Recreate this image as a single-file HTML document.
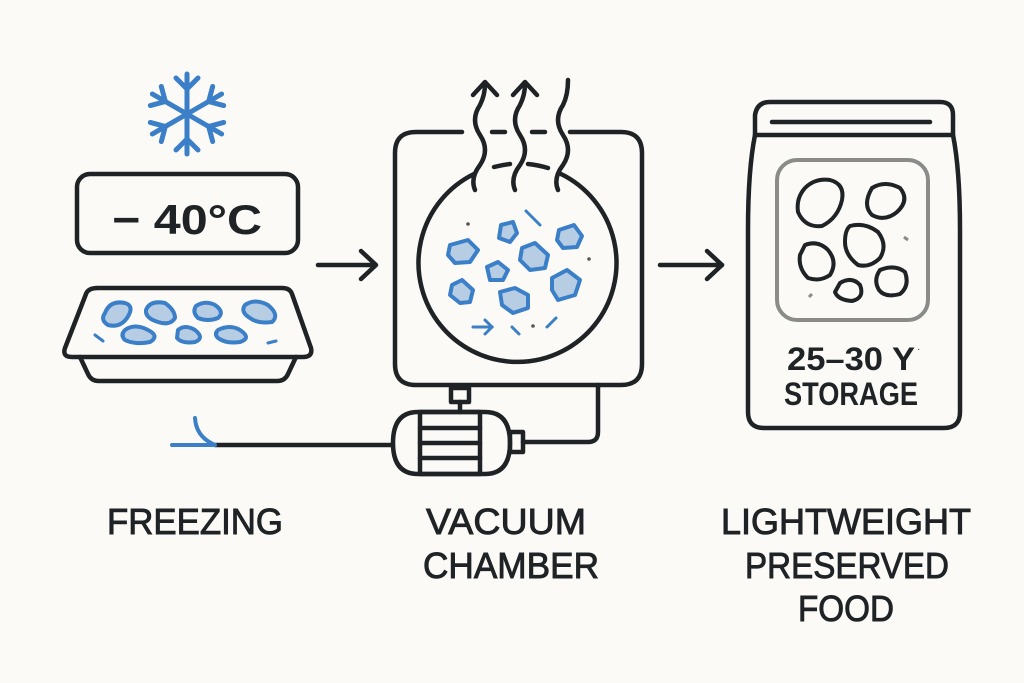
<!DOCTYPE html>
<html><head><meta charset="utf-8"><style>
html,body{margin:0;padding:0;background:#fbfaf6;}
svg{display:block;}
text{font-family:"Liberation Sans",sans-serif;fill:#1f2326;}
.lab{stroke:#1f2326;stroke-width:0.9;}
</style></head><body>
<svg width="1024" height="683" viewBox="0 0 1024 683" xmlns="http://www.w3.org/2000/svg">
<rect width="1024" height="683" fill="#fbfaf6"/>
<g stroke="#3a7fc8" stroke-width="5" stroke-linecap="round" fill="none">
  <g transform="translate(187,114)">
    <g id="arm"><line x1="0" y1="0" x2="0" y2="-40"/><polyline points="-11,-36 0,-25 11,-36"/></g>
    <use href="#arm" transform="rotate(60)"/><use href="#arm" transform="rotate(120)"/>
    <use href="#arm" transform="rotate(180)"/><use href="#arm" transform="rotate(240)"/><use href="#arm" transform="rotate(300)"/>
  </g>
</g>
<g fill="none" stroke="#1f2326" stroke-width="4.5" stroke-linejoin="round" stroke-linecap="round">
  <rect x="77" y="174" width="221" height="79" rx="13"/>
  <path d="M98,288 L282,288 Q290,288 292,294 L311,348 Q313,357 303,357 L72,357 Q62,357 65,348 L86,294 Q88,288 98,288 Z"/>
  <path d="M80,357 L88,374 Q91,381 99,381 L277,381 Q285,381 288,374 L296,357"/>
  <line x1="318" y1="265" x2="375" y2="265"/><polyline points="361,251 376,265 361,279"/>
  <line x1="660" y1="265" x2="722" y2="265"/><polyline points="707,251 722,265 707,279"/>
  <path d="M462,132 L416,132 Q395,132 395,153 L395,364 Q395,385 416,385 L621,385 Q642,385 642,364 L642,153 Q642,132 621,132 L570,132"/>
  <line x1="492" y1="132" x2="505" y2="132"/><line x1="532" y1="132" x2="545" y2="132"/>
  <path d="M474,174 A99,99 0 1 0 561,174"/>
  <path d="M494,167 Q502,165 510,164"/>
  <path d="M528,164 Q538,165 548,168"/>
  <path d="M475,190 Q470,178 480,165 Q490,150 480,135 Q470,120 480,105 Q485,95 485,84"/>
  <polyline points="473,95 485,82 497,95"/>
  <path d="M515,190 Q510,178 520,165 Q530,150 520,135 Q510,120 520,105 Q525,95 525,84"/>
  <polyline points="513,95 525,82 537,95"/>
  <path d="M558,190 Q553,178 563,165 Q573,150 563,135 Q553,120 563,105 Q568,95 568,80"/>
  <rect x="451" y="388" width="18" height="14"/>
  <line x1="460" y1="402" x2="460" y2="412"/>
  <path d="M418,412 L485,412 Q510,412 510,443 Q510,474 485,474 L418,474 Q393,474 393,443 Q393,412 418,412 Z"/>
  <rect x="420" y="412" width="60" height="62"/>
  <line x1="420" y1="428" x2="480" y2="428"/><line x1="420" y1="443" x2="480" y2="443"/><line x1="420" y1="458" x2="480" y2="458"/>
  <rect x="510" y="432" width="13" height="20"/>
  <path d="M523,442 L588,442 Q598,442 598,432 L598,385"/>
  <path d="M215,445 L393,445"/>
  <path d="M770,102 L940,102 Q953,102 953,115 L953,135 Q960,170 960,230 L960,412 Q960,428 944,428 L764,428 Q748,428 748,412 L748,230 Q748,170 755,135 L755,115 Q757,102 770,102 Z"/>
  <line x1="755" y1="135" x2="953" y2="135"/>
  <line x1="772" y1="122" x2="930" y2="122"/>
  <g stroke-width="4">
    <path d="M805,188 Q815,178 830,180 Q845,184 842,200 Q838,218 822,226 Q805,228 798,212 Q796,198 805,188 Z"/>
    <path d="M872,188 Q885,180 900,188 Q910,200 897,212 Q885,222 872,215 Q862,205 872,188 Z"/>
    <path d="M850,226 Q865,222 878,232 Q888,245 880,258 Q870,268 858,265 Q845,255 845,242 Q845,230 850,226 Z"/>
    <path d="M805,245 Q818,240 828,250 Q838,262 830,275 Q820,282 808,278 Q798,268 800,255 Z"/>
    <path d="M840,283 Q852,276 860,285 Q865,298 852,301 Q838,300 835,292 Z"/>
    <path d="M880,270 Q895,264 905,272 Q910,286 900,294 Q885,298 879,290 Q873,280 880,270 Z"/>
  </g>
</g>
<rect x="777" y="160" width="151" height="160" rx="20" fill="none" stroke="#8a8c8a" stroke-width="4"/>
<line x1="904" y1="237" x2="908" y2="240" stroke="#8a8c8a" stroke-width="3"/>
<line x1="809" y1="297" x2="812" y2="294" stroke="#8a8c8a" stroke-width="3"/>
<g fill="none" stroke="#3a7fc8" stroke-width="4" stroke-linecap="round">
  <line x1="172" y1="445" x2="215" y2="445"/>
  <path d="M195,418 Q196,436 213,444"/>
  <line x1="95" y1="335" x2="103" y2="341" stroke-width="3"/>
  <line x1="268" y1="343" x2="276" y2="341" stroke-width="3"/>
</g>
<g fill="#b7cde4" stroke="#3a7fc8" stroke-width="4" stroke-linejoin="round">
  <path d="M105,313 Q110,300 125,303 Q135,306 127,318 Q120,328 108,325 Q100,320 105,313 Z"/>
  <path d="M146,310 Q150,300 165,303 Q175,310 175,318 Q170,326 158,322 Q145,318 146,310 Z"/>
  <path d="M196,306 Q205,300 215,305 Q225,312 218,318 Q208,322 198,318 Q192,312 196,306 Z"/>
  <path d="M245,305 Q255,298 268,305 Q280,315 272,322 Q258,324 250,318 Q240,312 245,305 Z"/>
  <path d="M125,330 Q135,323 148,330 Q160,336 150,342 Q135,345 125,340 Q120,335 125,330 Z"/>
  <path d="M178,330 Q185,324 195,330 Q205,338 195,342 Q182,344 177,338 Z"/>
  <path d="M218,330 Q230,324 240,330 Q252,338 240,342 Q226,344 218,338 Q214,334 218,330 Z"/>
</g>
<g fill="#b7cde4" stroke="#3a7fc8" stroke-width="4" stroke-linejoin="round">
  <path d="M501,225 L513,222 L517,233 L510,242 L499,238 Z"/>
  <path d="M450,245 L468,240 L478,250 L470,262 L455,263 L448,255 Z"/>
  <path d="M487,267 L498,262 L508,270 L503,280 L490,280 Z"/>
  <path d="M522,248 L535,243 L548,255 L545,268 L530,270 L520,260 Z"/>
  <path d="M559,230 L574,225 L582,236 L577,247 L563,248 L557,240 Z"/>
  <path d="M452,285 L462,280 L473,290 L470,302 L460,303 L450,295 Z"/>
  <path d="M500,292 L515,288 L528,295 L528,308 L513,313 L502,305 Z"/>
  <path d="M552,278 L567,270 L580,280 L575,295 L558,300 L552,290 Z"/>
</g>
<g stroke="#3a7fc8" stroke-width="3" stroke-linecap="round" fill="none">
  <line x1="526" y1="211" x2="540" y2="225"/>
  <line x1="473" y1="327" x2="492" y2="327"/><polyline points="485,320 492,327 485,334"/>
  <line x1="512" y1="327" x2="519" y2="334"/>
  <line x1="547" y1="327" x2="556" y2="318"/>
</g>
<circle cx="468" cy="224" r="1.8" fill="#555"/><circle cx="589" cy="259" r="1.8" fill="#555"/><circle cx="533" cy="326" r="1.8" fill="#555"/>
<text x="187" y="234" font-size="42" font-weight="bold" text-anchor="middle" textLength="150" lengthAdjust="spacingAndGlyphs">− 40°C</text>
<text x="851" y="370" font-size="32" font-weight="bold" text-anchor="middle" textLength="128" lengthAdjust="spacingAndGlyphs">25–30 Y</text>
<text x="917" y="352" font-size="10">·</text>
<text x="851" y="405" font-size="32" font-weight="bold" text-anchor="middle" textLength="134" lengthAdjust="spacingAndGlyphs">STORAGE</text>
<text class="lab" x="195" y="534" font-size="36" text-anchor="middle" textLength="176" lengthAdjust="spacingAndGlyphs">FREEZING</text>
<text class="lab" x="506" y="534" font-size="36" text-anchor="middle" textLength="160" lengthAdjust="spacingAndGlyphs">VACUUM</text>
<text class="lab" x="511" y="578" font-size="36" text-anchor="middle" textLength="176" lengthAdjust="spacingAndGlyphs">CHAMBER</text>
<text class="lab" x="846" y="534" font-size="36" text-anchor="middle" textLength="250" lengthAdjust="spacingAndGlyphs">LIGHTWEIGHT</text>
<text class="lab" x="847" y="578" font-size="36" text-anchor="middle" textLength="204" lengthAdjust="spacingAndGlyphs">PRESERVED</text>
<text class="lab" x="846" y="621" font-size="36" text-anchor="middle" textLength="96" lengthAdjust="spacingAndGlyphs">FOOD</text>
</svg>
</body></html>
